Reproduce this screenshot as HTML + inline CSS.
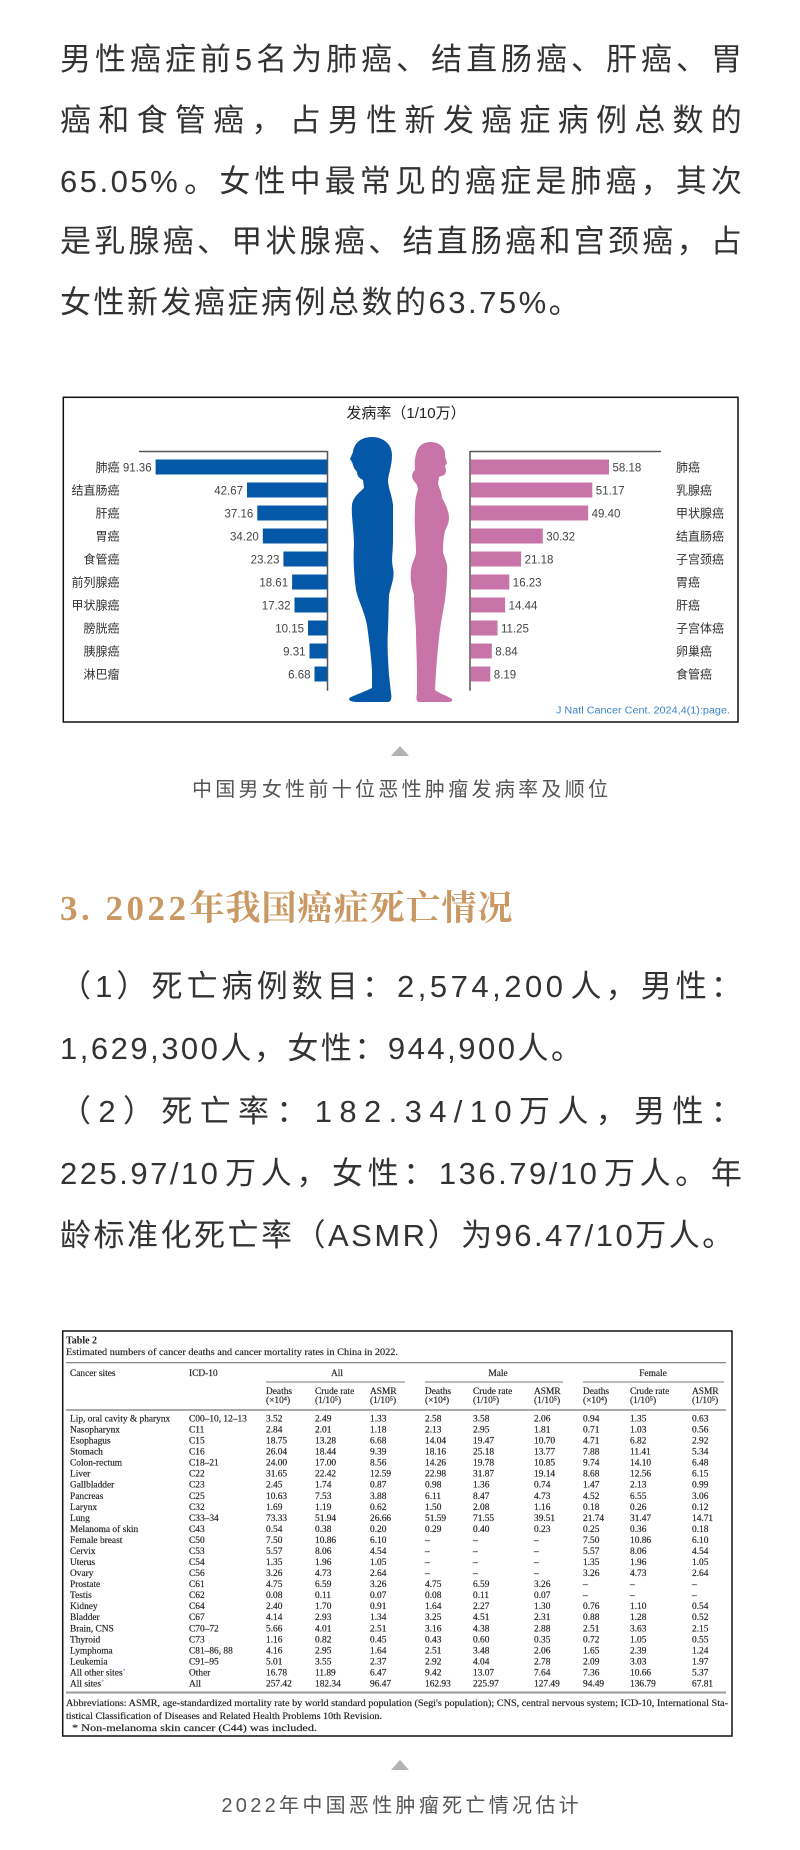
<!DOCTYPE html>
<html lang="zh">
<head>
<meta charset="utf-8">
<style>
html,body{margin:0;padding:0;background:#fff;}
body{width:800px;height:1850px;position:relative;overflow:hidden;font-family:"Liberation Sans","Noto Sans CJK SC",sans-serif;}
.ln{position:absolute;left:60px;width:682px;height:40px;line-height:40px;font-size:31px;color:#333;white-space:nowrap;}
.pl{letter-spacing:2.5px;}
.j{display:flex;justify-content:space-between;}
.j span{display:block;}
.cap{position:absolute;left:0;width:800px;height:30px;line-height:30px;text-align:center;font-size:20px;letter-spacing:3.3px;text-indent:3.3px;color:#555;white-space:nowrap;}
.tri{position:absolute;left:391px;width:0;height:0;border-left:9px solid transparent;border-right:9px solid transparent;border-bottom:10px solid #b3b3b3;}
.hd{position:absolute;left:60px;top:884px;height:50px;line-height:50px;font-family:"Liberation Serif","Noto Serif CJK SC",serif;font-weight:bold;font-size:35px;letter-spacing:1px;color:#c99863;white-space:nowrap;}
svg{position:absolute;left:0;top:0;}
</style>
</head>
<body>

<!-- Paragraph 1 -->
<div class="ln j" style="top:40px"><span>男</span><span>性</span><span>癌</span><span>症</span><span>前</span><span>5</span><span>名</span><span>为</span><span>肺</span><span>癌</span><span>、</span><span>结</span><span>直</span><span>肠</span><span>癌</span><span>、</span><span>肝</span><span>癌</span><span>、</span><span>胃</span></div>
<div class="ln j" style="top:101px"><span>癌</span><span>和</span><span>食</span><span>管</span><span>癌</span><span>，</span><span>占</span><span>男</span><span>性</span><span>新</span><span>发</span><span>癌</span><span>症</span><span>病</span><span>例</span><span>总</span><span>数</span><span>的</span></div>
<div class="ln j" style="top:162px"><span style="letter-spacing:2.5px">65.05%</span><span>。</span><span>女</span><span>性</span><span>中</span><span>最</span><span>常</span><span>见</span><span>的</span><span>癌</span><span>症</span><span>是</span><span>肺</span><span>癌</span><span>，</span><span>其</span><span>次</span></div>
<div class="ln j" style="top:222px"><span>是</span><span>乳</span><span>腺</span><span>癌</span><span>、</span><span>甲</span><span>状</span><span>腺</span><span>癌</span><span>、</span><span>结</span><span>直</span><span>肠</span><span>癌</span><span>和</span><span>宫</span><span>颈</span><span>癌</span><span>，</span><span>占</span></div>
<div class="ln pl" style="top:283px">女性新发癌症病例总数的63.75%。</div>

<!-- Chart + table SVG -->
<svg width="800" height="1850" viewBox="0 0 800 1850" xmlns="http://www.w3.org/2000/svg">
  <!-- chart frame -->
  <rect x="63.3" y="397.3" width="674.7" height="324.7" fill="#fff" stroke="#111" stroke-width="1.5"/>
  <text x="406" y="418" text-anchor="middle" font-family="'Liberation Sans','Noto Sans CJK SC',sans-serif" font-size="15" fill="#222">发病率（1/10万）</text>

  <!-- axes -->
  <g stroke="#555" stroke-width="1.5" fill="none">
    <line x1="139" y1="451.5" x2="327.5" y2="451.5"/>
    <line x1="327.5" y1="451" x2="327.5" y2="690.7"/>
    <line x1="470" y1="451.5" x2="661" y2="451.5"/>
    <line x1="470" y1="451" x2="470" y2="690.7"/>
  </g>

  <!-- male bars -->
  <g fill="#0558a8">
    <rect x="155.6" y="459.5" width="171.4" height="15"/>
    <rect x="247.0" y="482.5" width="80.0" height="15"/>
    <rect x="257.3" y="505.5" width="69.7" height="15"/>
    <rect x="262.8" y="528.5" width="64.2" height="15"/>
    <rect x="283.4" y="551.5" width="43.6" height="15"/>
    <rect x="292.1" y="574.5" width="34.9" height="15"/>
    <rect x="294.5" y="597.5" width="32.5" height="15"/>
    <rect x="308.0" y="620.5" width="19.0" height="15"/>
    <rect x="309.5" y="643.5" width="17.5" height="15"/>
    <rect x="314.5" y="666.5" width="12.5" height="15"/>
  </g>
  <!-- female bars -->
  <g fill="#c874a8">
    <rect x="470.8" y="459.5" width="138.2" height="15"/>
    <rect x="470.8" y="482.5" width="121.5" height="15"/>
    <rect x="470.8" y="505.5" width="117.3" height="15"/>
    <rect x="470.8" y="528.5" width="72.0" height="15"/>
    <rect x="470.8" y="551.5" width="50.3" height="15"/>
    <rect x="470.8" y="574.5" width="38.5" height="15"/>
    <rect x="470.8" y="597.5" width="34.3" height="15"/>
    <rect x="470.8" y="620.5" width="26.7" height="15"/>
    <rect x="470.8" y="643.5" width="21.0" height="15"/>
    <rect x="470.8" y="666.5" width="19.5" height="15"/>
  </g>

  <!-- male labels -->
  <g font-family="'Liberation Sans','Noto Sans CJK SC',sans-serif" font-size="12" fill="#333" text-anchor="end">
    <text x="119.5" y="471.3">肺癌</text>
    <text x="119.5" y="494.3">结直肠癌</text>
    <text x="119.5" y="517.3">肝癌</text>
    <text x="119.5" y="540.3">胃癌</text>
    <text x="119.5" y="563.3">食管癌</text>
    <text x="119.5" y="586.3">前列腺癌</text>
    <text x="119.5" y="609.3">甲状腺癌</text>
    <text x="119.5" y="632.3">膀胱癌</text>
    <text x="119.5" y="655.3">胰腺癌</text>
    <text x="119.5" y="678.3">淋巴瘤</text>
  </g>
  <g font-family="'Liberation Sans',sans-serif" font-size="11.5" fill="#444" text-anchor="end">
    <text x="151.6" y="471.3">91.36</text>
    <text x="243.0" y="494.3">42.67</text>
    <text x="253.3" y="517.3">37.16</text>
    <text x="258.8" y="540.3">34.20</text>
    <text x="279.4" y="563.3">23.23</text>
    <text x="288.1" y="586.3">18.61</text>
    <text x="290.5" y="609.3">17.32</text>
    <text x="304.0" y="632.3">10.15</text>
    <text x="305.5" y="655.3">9.31</text>
    <text x="310.5" y="678.3">6.68</text>
  </g>
  <!-- female labels -->
  <g font-family="'Liberation Sans',sans-serif" font-size="11.5" fill="#444">
    <text x="612.5" y="471.3">58.18</text>
    <text x="595.8" y="494.3">51.17</text>
    <text x="591.6" y="517.3">49.40</text>
    <text x="546.3" y="540.3">30.32</text>
    <text x="524.6" y="563.3">21.18</text>
    <text x="512.8" y="586.3">16.23</text>
    <text x="508.6" y="609.3">14.44</text>
    <text x="501.0" y="632.3">11.25</text>
    <text x="495.3" y="655.3">8.84</text>
    <text x="493.8" y="678.3">8.19</text>
  </g>
  <g font-family="'Liberation Sans','Noto Sans CJK SC',sans-serif" font-size="12" fill="#333">
    <text x="676" y="471.3">肺癌</text>
    <text x="676" y="494.3">乳腺癌</text>
    <text x="676" y="517.3">甲状腺癌</text>
    <text x="676" y="540.3">结直肠癌</text>
    <text x="676" y="563.3">子宫颈癌</text>
    <text x="676" y="586.3">胃癌</text>
    <text x="676" y="609.3">肝癌</text>
    <text x="676" y="632.3">子宫体癌</text>
    <text x="676" y="655.3">卵巢癌</text>
    <text x="676" y="678.3">食管癌</text>
  </g>

  <!-- silhouettes -->
  <path fill="#0558a8" d="M372,437 C383,437 392,444 392,455 C392,465 389,472 388,480 C388,488 392,495 393,505 L393,540 C393,552 391,560 393,568 C395,578 391,585 389,595 L388,630 C387,645 388,660 389,675 L391,693 C392,698 391,702 388,702 L358,702 C349,702 347,699 351,697 C358,694 366,691 372,688 L372,670 C371,655 369,640 367,625 C364,610 358,600 356,590 C354,575 353,560 354,545 C354,530 351,515 352,505 C353,497 360,492 364,488 L363,480 C359,478 357,476 357,472 L354,468 L352,462 L350,459 L353,452 C354,444 360,437 372,437 Z"/>
  <path fill="#c874a8" d="M430,442 C440,442 446,448 445,456 L447,463 L445,466 L446,470 C446,474 444,476 441,476 L439,477 L438,484 C440,490 442,494 442,498 C446,505 449,512 449,518 C449,524 446,528 445,531 C443,540 443,548 443,553 C446,560 448,566 447,572 C447,582 446,592 445,600 C443,612 441,622 440,630 C438,645 437,660 436,672 L435,690 C440,694 448,696 452,699 C453,702 450,702 447,702 L420,702 C416,702 416,698 417,694 L417,675 C417,660 416,645 416,630 C415,615 414,605 414,595 C411,585 410,578 411,570 C412,562 416,557 416,552 C416,540 414,525 415,510 C415,500 416,495 418,490 C418,486 416,483 414,481 C411,478 412,472 415,470 C414,460 416,450 420,446 C423,443 427,442 430,442 Z"/>

  <text x="730" y="713.5" text-anchor="end" font-family="'Liberation Sans',sans-serif" font-size="10" fill="#3e84c8" textLength="174" lengthAdjust="spacingAndGlyphs">J Natl Cancer Cent. 2024,4(1):page.</text>

  <!-- ===== TABLE ===== -->
  <rect x="62.7" y="1331" width="669.3" height="405" fill="#fff" stroke="#111" stroke-width="1.5"/>
  <g font-family="'Liberation Serif',serif" fill="#222">
    <text x="66" y="1343.5" font-size="10" font-weight="bold">Table 2</text>
    <text x="66" y="1355" font-size="9.6" stroke="#333" stroke-width="0.2" textLength="332" lengthAdjust="spacingAndGlyphs">Estimated numbers of cancer deaths and cancer mortality rates in China in 2022.</text>
  </g>
  <g stroke="#777">
    <line x1="66" y1="1362.7" x2="726" y2="1362.7" stroke-width="1.2"/>
    <line x1="266" y1="1382" x2="405" y2="1382" stroke-width="1"/>
    <line x1="425" y1="1382" x2="563" y2="1382" stroke-width="1"/>
    <line x1="583" y1="1382" x2="724" y2="1382" stroke-width="1"/>
    <line x1="66" y1="1410" x2="726" y2="1410" stroke-width="1.2"/>
    <line x1="66" y1="1692.5" x2="726" y2="1692.5" stroke-width="2" stroke="#999"/>
  </g>
  <g font-family="'Liberation Serif',serif" font-size="9.4" fill="#222" stroke="#333" stroke-width="0.2">
    <text y="1376"><tspan x="70">Cancer sites</tspan><tspan x="189">ICD-10</tspan></text>
    <text y="1376" x="337" text-anchor="middle">All</text>
    <text y="1376" x="498" text-anchor="middle">Male</text>
    <text y="1376" x="653" text-anchor="middle">Female</text>
    <text y="1394"><tspan x="266">Deaths</tspan><tspan x="315">Crude rate</tspan><tspan x="370">ASMR</tspan><tspan x="425">Deaths</tspan><tspan x="473">Crude rate</tspan><tspan x="534">ASMR</tspan><tspan x="583">Deaths</tspan><tspan x="630">Crude rate</tspan><tspan x="692">ASMR</tspan></text>
    <text y="1403"><tspan x="266">(×10⁴)</tspan><tspan x="315">(1/10⁵)</tspan><tspan x="370">(1/10⁵)</tspan><tspan x="425">(×10⁴)</tspan><tspan x="473">(1/10⁵)</tspan><tspan x="534">(1/10⁵)</tspan><tspan x="583">(×10⁴)</tspan><tspan x="630">(1/10⁵)</tspan><tspan x="692">(1/10⁵)</tspan></text>

    <text y="1421.5"><tspan x="70">Lip, oral cavity &amp; pharynx</tspan><tspan x="189">C00–10, 12–13</tspan><tspan x="266">3.52</tspan><tspan x="315">2.49</tspan><tspan x="370">1.33</tspan><tspan x="425">2.58</tspan><tspan x="473">3.58</tspan><tspan x="534">2.06</tspan><tspan x="583">0.94</tspan><tspan x="630">1.35</tspan><tspan x="692">0.63</tspan></text>
    <text y="1432.5"><tspan x="70">Nasopharynx</tspan><tspan x="189">C11</tspan><tspan x="266">2.84</tspan><tspan x="315">2.01</tspan><tspan x="370">1.18</tspan><tspan x="425">2.13</tspan><tspan x="473">2.95</tspan><tspan x="534">1.81</tspan><tspan x="583">0.71</tspan><tspan x="630">1.03</tspan><tspan x="692">0.56</tspan></text>
    <text y="1443.6"><tspan x="70">Esophagus</tspan><tspan x="189">C15</tspan><tspan x="266">18.75</tspan><tspan x="315">13.28</tspan><tspan x="370">6.68</tspan><tspan x="425">14.04</tspan><tspan x="473">19.47</tspan><tspan x="534">10.70</tspan><tspan x="583">4.71</tspan><tspan x="630">6.82</tspan><tspan x="692">2.92</tspan></text>
    <text y="1454.6"><tspan x="70">Stomach</tspan><tspan x="189">C16</tspan><tspan x="266">26.04</tspan><tspan x="315">18.44</tspan><tspan x="370">9.39</tspan><tspan x="425">18.16</tspan><tspan x="473">25.18</tspan><tspan x="534">13.77</tspan><tspan x="583">7.88</tspan><tspan x="630">11.41</tspan><tspan x="692">5.34</tspan></text>
    <text y="1465.7"><tspan x="70">Colon-rectum</tspan><tspan x="189">C18–21</tspan><tspan x="266">24.00</tspan><tspan x="315">17.00</tspan><tspan x="370">8.56</tspan><tspan x="425">14.26</tspan><tspan x="473">19.78</tspan><tspan x="534">10.85</tspan><tspan x="583">9.74</tspan><tspan x="630">14.10</tspan><tspan x="692">6.48</tspan></text>
    <text y="1476.7"><tspan x="70">Liver</tspan><tspan x="189">C22</tspan><tspan x="266">31.65</tspan><tspan x="315">22.42</tspan><tspan x="370">12.59</tspan><tspan x="425">22.98</tspan><tspan x="473">31.87</tspan><tspan x="534">19.14</tspan><tspan x="583">8.68</tspan><tspan x="630">12.56</tspan><tspan x="692">6.15</tspan></text>
    <text y="1487.7"><tspan x="70">Gallbladder</tspan><tspan x="189">C23</tspan><tspan x="266">2.45</tspan><tspan x="315">1.74</tspan><tspan x="370">0.87</tspan><tspan x="425">0.98</tspan><tspan x="473">1.36</tspan><tspan x="534">0.74</tspan><tspan x="583">1.47</tspan><tspan x="630">2.13</tspan><tspan x="692">0.99</tspan></text>
    <text y="1498.8"><tspan x="70">Pancreas</tspan><tspan x="189">C25</tspan><tspan x="266">10.63</tspan><tspan x="315">7.53</tspan><tspan x="370">3.88</tspan><tspan x="425">6.11</tspan><tspan x="473">8.47</tspan><tspan x="534">4.73</tspan><tspan x="583">4.52</tspan><tspan x="630">6.55</tspan><tspan x="692">3.06</tspan></text>
    <text y="1509.8"><tspan x="70">Larynx</tspan><tspan x="189">C32</tspan><tspan x="266">1.69</tspan><tspan x="315">1.19</tspan><tspan x="370">0.62</tspan><tspan x="425">1.50</tspan><tspan x="473">2.08</tspan><tspan x="534">1.16</tspan><tspan x="583">0.18</tspan><tspan x="630">0.26</tspan><tspan x="692">0.12</tspan></text>
    <text y="1520.9"><tspan x="70">Lung</tspan><tspan x="189">C33–34</tspan><tspan x="266">73.33</tspan><tspan x="315">51.94</tspan><tspan x="370">26.66</tspan><tspan x="425">51.59</tspan><tspan x="473">71.55</tspan><tspan x="534">39.51</tspan><tspan x="583">21.74</tspan><tspan x="630">31.47</tspan><tspan x="692">14.71</tspan></text>
    <text y="1531.9"><tspan x="70">Melanoma of skin</tspan><tspan x="189">C43</tspan><tspan x="266">0.54</tspan><tspan x="315">0.38</tspan><tspan x="370">0.20</tspan><tspan x="425">0.29</tspan><tspan x="473">0.40</tspan><tspan x="534">0.23</tspan><tspan x="583">0.25</tspan><tspan x="630">0.36</tspan><tspan x="692">0.18</tspan></text>
    <text y="1542.9"><tspan x="70">Female breast</tspan><tspan x="189">C50</tspan><tspan x="266">7.50</tspan><tspan x="315">10.86</tspan><tspan x="370">6.10</tspan><tspan x="425">–</tspan><tspan x="473">–</tspan><tspan x="534">–</tspan><tspan x="583">7.50</tspan><tspan x="630">10.86</tspan><tspan x="692">6.10</tspan></text>
    <text y="1554.0"><tspan x="70">Cervix</tspan><tspan x="189">C53</tspan><tspan x="266">5.57</tspan><tspan x="315">8.06</tspan><tspan x="370">4.54</tspan><tspan x="425">–</tspan><tspan x="473">–</tspan><tspan x="534">–</tspan><tspan x="583">5.57</tspan><tspan x="630">8.06</tspan><tspan x="692">4.54</tspan></text>
    <text y="1565.0"><tspan x="70">Uterus</tspan><tspan x="189">C54</tspan><tspan x="266">1.35</tspan><tspan x="315">1.96</tspan><tspan x="370">1.05</tspan><tspan x="425">–</tspan><tspan x="473">–</tspan><tspan x="534">–</tspan><tspan x="583">1.35</tspan><tspan x="630">1.96</tspan><tspan x="692">1.05</tspan></text>
    <text y="1576.1"><tspan x="70">Ovary</tspan><tspan x="189">C56</tspan><tspan x="266">3.26</tspan><tspan x="315">4.73</tspan><tspan x="370">2.64</tspan><tspan x="425">–</tspan><tspan x="473">–</tspan><tspan x="534">–</tspan><tspan x="583">3.26</tspan><tspan x="630">4.73</tspan><tspan x="692">2.64</tspan></text>
    <text y="1587.1"><tspan x="70">Prostate</tspan><tspan x="189">C61</tspan><tspan x="266">4.75</tspan><tspan x="315">6.59</tspan><tspan x="370">3.26</tspan><tspan x="425">4.75</tspan><tspan x="473">6.59</tspan><tspan x="534">3.26</tspan><tspan x="583">–</tspan><tspan x="630">–</tspan><tspan x="692">–</tspan></text>
    <text y="1598.1"><tspan x="70">Testis</tspan><tspan x="189">C62</tspan><tspan x="266">0.08</tspan><tspan x="315">0.11</tspan><tspan x="370">0.07</tspan><tspan x="425">0.08</tspan><tspan x="473">0.11</tspan><tspan x="534">0.07</tspan><tspan x="583">–</tspan><tspan x="630">–</tspan><tspan x="692">–</tspan></text>
    <text y="1609.2"><tspan x="70">Kidney</tspan><tspan x="189">C64</tspan><tspan x="266">2.40</tspan><tspan x="315">1.70</tspan><tspan x="370">0.91</tspan><tspan x="425">1.64</tspan><tspan x="473">2.27</tspan><tspan x="534">1.30</tspan><tspan x="583">0.76</tspan><tspan x="630">1.10</tspan><tspan x="692">0.54</tspan></text>
    <text y="1620.2"><tspan x="70">Bladder</tspan><tspan x="189">C67</tspan><tspan x="266">4.14</tspan><tspan x="315">2.93</tspan><tspan x="370">1.34</tspan><tspan x="425">3.25</tspan><tspan x="473">4.51</tspan><tspan x="534">2.31</tspan><tspan x="583">0.88</tspan><tspan x="630">1.28</tspan><tspan x="692">0.52</tspan></text>
    <text y="1631.3"><tspan x="70">Brain, CNS</tspan><tspan x="189">C70–72</tspan><tspan x="266">5.66</tspan><tspan x="315">4.01</tspan><tspan x="370">2.51</tspan><tspan x="425">3.16</tspan><tspan x="473">4.38</tspan><tspan x="534">2.88</tspan><tspan x="583">2.51</tspan><tspan x="630">3.63</tspan><tspan x="692">2.15</tspan></text>
    <text y="1642.3"><tspan x="70">Thyroid</tspan><tspan x="189">C73</tspan><tspan x="266">1.16</tspan><tspan x="315">0.82</tspan><tspan x="370">0.45</tspan><tspan x="425">0.43</tspan><tspan x="473">0.60</tspan><tspan x="534">0.35</tspan><tspan x="583">0.72</tspan><tspan x="630">1.05</tspan><tspan x="692">0.55</tspan></text>
    <text y="1653.3"><tspan x="70">Lymphoma</tspan><tspan x="189">C81–86, 88</tspan><tspan x="266">4.16</tspan><tspan x="315">2.95</tspan><tspan x="370">1.64</tspan><tspan x="425">2.51</tspan><tspan x="473">3.48</tspan><tspan x="534">2.06</tspan><tspan x="583">1.65</tspan><tspan x="630">2.39</tspan><tspan x="692">1.24</tspan></text>
    <text y="1664.4"><tspan x="70">Leukemia</tspan><tspan x="189">C91–95</tspan><tspan x="266">5.01</tspan><tspan x="315">3.55</tspan><tspan x="370">2.37</tspan><tspan x="425">2.92</tspan><tspan x="473">4.04</tspan><tspan x="534">2.78</tspan><tspan x="583">2.09</tspan><tspan x="630">3.03</tspan><tspan x="692">1.97</tspan></text>
    <text y="1675.4"><tspan x="70">All other sites</tspan><tspan font-size="6" fill="#5a8fd0" stroke="none" dy="-3">*</tspan><tspan x="189" dy="3">Other</tspan><tspan x="266">16.78</tspan><tspan x="315">11.89</tspan><tspan x="370">6.47</tspan><tspan x="425">9.42</tspan><tspan x="473">13.07</tspan><tspan x="534">7.64</tspan><tspan x="583">7.36</tspan><tspan x="630">10.66</tspan><tspan x="692">5.37</tspan></text>
    <text y="1686.5"><tspan x="70">All sites</tspan><tspan font-size="6" fill="#5a8fd0" stroke="none" dy="-3">*</tspan><tspan x="189" dy="3">All</tspan><tspan x="266">257.42</tspan><tspan x="315">182.34</tspan><tspan x="370">96.47</tspan><tspan x="425">162.93</tspan><tspan x="473">225.97</tspan><tspan x="534">127.49</tspan><tspan x="583">94.49</tspan><tspan x="630">136.79</tspan><tspan x="692">67.81</tspan></text>

    <text x="66" y="1706" font-size="9.6" textLength="662" lengthAdjust="spacingAndGlyphs">Abbreviations: ASMR, age-standardized mortality rate by world standard population (Segi's population); CNS, central nervous system; ICD-10, International Sta-</text>
    <text x="66" y="1719" font-size="9.6" textLength="316" lengthAdjust="spacingAndGlyphs">tistical Classification of Diseases and Related Health Problems 10th Revision.</text>
    <text x="72" y="1731" font-size="9.6" textLength="245" lengthAdjust="spacingAndGlyphs">* Non-melanoma skin cancer (C44) was included.</text>
  </g>
</svg>

<!-- caption 1 -->
<div class="tri" style="top:745.5px"></div>
<div class="cap" style="top:775px">中国男女性前十位恶性肿瘤发病率及顺位</div>

<!-- heading -->
<div class="hd"><span style="letter-spacing:3.5px">3. 2022</span>年我国癌症死亡情况</div>

<!-- Paragraph 2 -->
<div class="ln j" style="top:967px"><span>（</span><span>1</span><span>）</span><span>死</span><span>亡</span><span>病</span><span>例</span><span>数</span><span>目</span><span>：</span><span style="letter-spacing:3.5px">2,574,200</span><span>人</span><span>，</span><span>男</span><span>性</span><span>：</span></div>
<div class="ln pl" style="top:1029px">1,629,300人，女性：944,900人。</div>
<div class="ln j" style="top:1092px"><span>（</span><span>2</span><span>）</span><span>死</span><span>亡</span><span>率</span><span>：</span><span>1</span><span>8</span><span>2</span><span>.</span><span>3</span><span>4</span><span>/</span><span>1</span><span>0</span><span>万</span><span>人</span><span>，</span><span>男</span><span>性</span><span>：</span></div>
<div class="ln j" style="top:1154px"><span style="letter-spacing:2.5px">225.97/10</span><span>万</span><span>人</span><span>，</span><span>女</span><span>性</span><span>：</span><span style="letter-spacing:2.5px">136.79/10</span><span>万</span><span>人</span><span>。</span><span>年</span></div>
<div class="ln pl" style="top:1216px">龄标准化死亡率（ASMR）为96.47/10万人。</div>

<!-- caption 2 -->
<div class="tri" style="top:1760px"></div>
<div class="cap" style="top:1791px">2022年中国恶性肿瘤死亡情况估计</div>

</body>
</html>
